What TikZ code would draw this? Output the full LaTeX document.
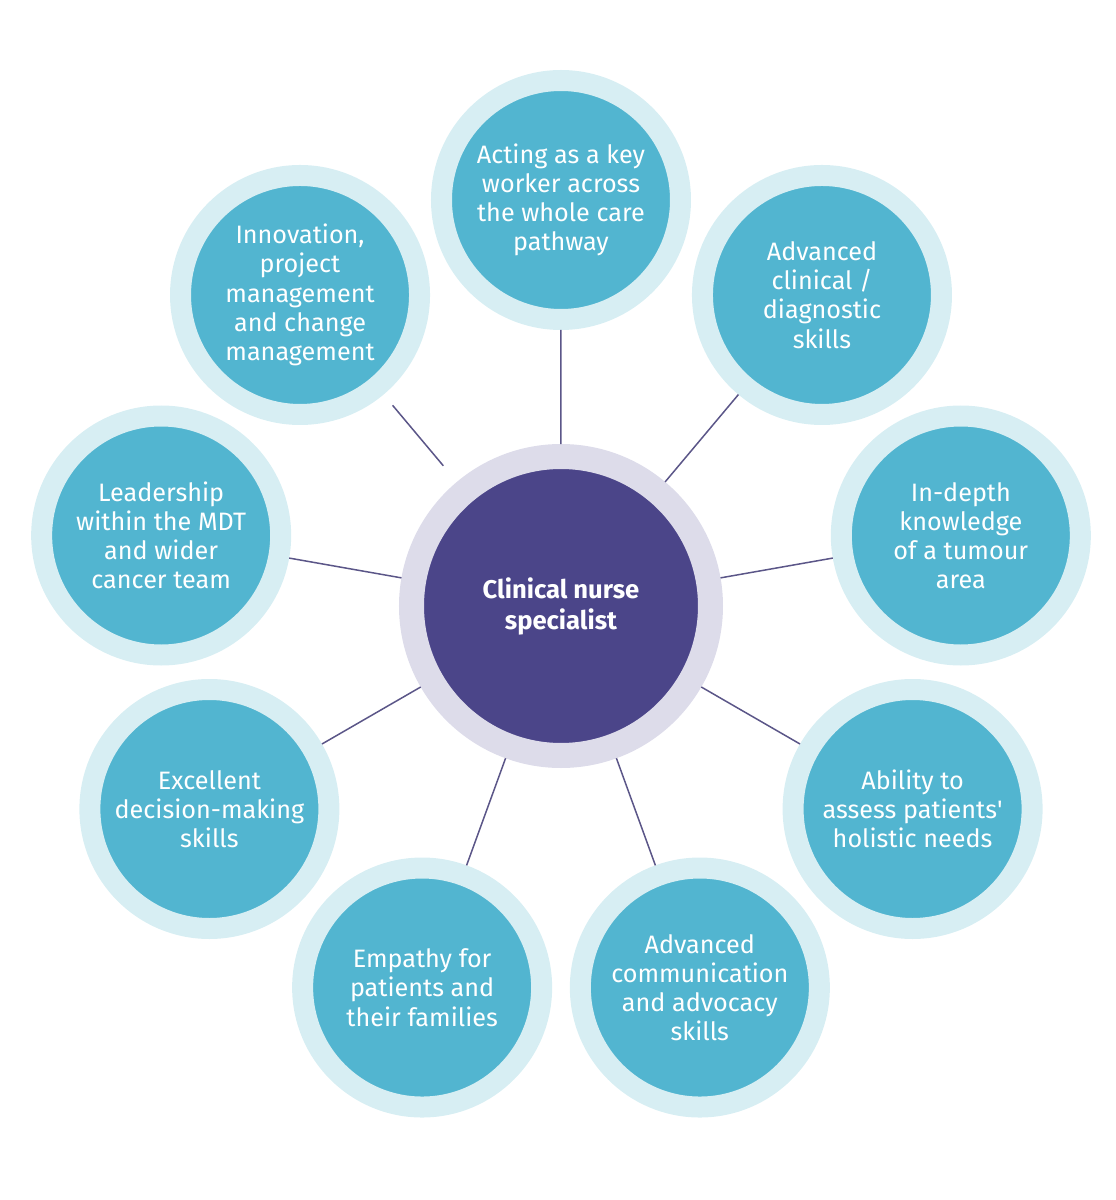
\documentclass[tikz,border=0pt]{standalone}
\usepackage{fontspec}
\setmainfont{Fira Sans}
\usetikzlibrary{shapes}
\definecolor{ring_blue}{HTML}{D7EEF3}
\definecolor{fill_blue}{HTML}{52B5D0}
\definecolor{core_purple}{HTML}{4B4589}
\definecolor{ring_grey}{HTML}{DDDCEA}
\definecolor{link_purple}{HTML}{5B5688}
\tikzstyle{node_skill} = [circle, draw=ring_blue, fill=fill_blue, line width=10.5pt, inner sep=0pt, minimum size=119.5pt, text=white, align=center, font=\fontsize{12.6}{14.6}\selectfont]
\tikzstyle{node_core} = [circle, draw=ring_grey, fill=core_purple, line width=12.5pt, inner sep=0pt, minimum size=149.5pt, text=white, align=center, font=\fontsize{12.8}{15.5}\selectfont\bfseries]
\tikzstyle{edge_link} = [draw=link_purple, line width=0.75pt, shorten <=10.5pt, shorten >=7pt]

\begin{document}
\begin{tikzpicture}[x=0.5pt, y=0.5pt]
		\useasboundingbox (-561,-594) rectangle (554,606);
		\def\inc{40}
		\def\ro{406}
		\node (CNS) at (0,0) [node_core] {Clinical nurse\\specialist};
		\node (A) at ({90-0*\inc}:\ro) [node_skill] {Acting as a key\\worker across\\the whole care\\pathway};
		\node (B) at ({90-1*\inc}:\ro) [node_skill] {Advanced\\clinical /\\diagnostic\\skills};
		\node (C) at ({90-2*\inc}:\ro) [node_skill] {In-depth\\knowledge\\of a tumour\\area};
		\node (D) at ({90-3*\inc}:\ro) [node_skill] {Ability to\\assess patients\textquotesingle\\holistic needs};
		\node (E) at ({90-4*\inc}:\ro) [node_skill] {Advanced\\communication\\and advocacy\\skills};
		\node (F) at ({90-5*\inc}:\ro) [node_skill] {Empathy for\\patients and\\their families};
		\node (G) at ({90-6*\inc}:\ro) [node_skill] {Excellent\\decision-making\\skills};
		\node (H) at ({90-7*\inc}:\ro) [node_skill] {Leadership\\within the MDT\\and wider\\cancer team};
		\node (I) at ({90-8*\inc}:\ro) [node_skill] {Innovation,\\project\\management\\and change\\management};
		
		\draw[edge_link] (CNS)--(A) (CNS)--(B) (CNS)--(C) (CNS)--(D) (CNS)--(E) (CNS)--(F) (CNS)--(G) (CNS)--(H) (CNS)--(I);
		\end{tikzpicture}
\end{document}
